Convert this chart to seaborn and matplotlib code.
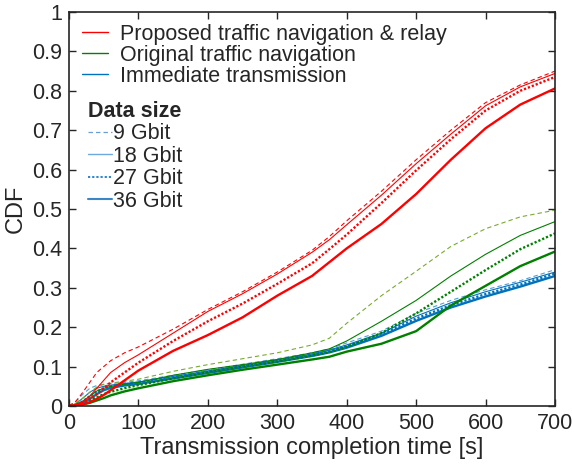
import numpy as np
import pandas as pd
import seaborn as sns
import matplotlib.pyplot as plt
from matplotlib.lines import Line2D
from matplotlib.ticker import FuncFormatter

# transmission completion time [s]
t = [0, 10, 20, 30, 40, 50, 60, 80, 100, 150, 200, 250, 300, 350, 375,
     400, 450, 500, 550, 600, 650, 700]

# proposed traffic navigation & relay
red_9 = [0, 0.012, 0.035, 0.06, 0.085, 0.10, 0.115, 0.135, 0.15, 0.195, 0.245, 0.29, 0.34, 0.395, 0.43,
         0.47, 0.545, 0.625, 0.70, 0.77, 0.815, 0.85]
red_18 = [0, 0.003, 0.012, 0.025, 0.045, 0.065, 0.085, 0.11, 0.13, 0.185, 0.24, 0.285, 0.335, 0.39, 0.422,
          0.46, 0.535, 0.615, 0.69, 0.762, 0.81, 0.844]
red_27 = [0, 0.002, 0.008, 0.018, 0.03, 0.045, 0.06, 0.085, 0.11, 0.165, 0.215, 0.26, 0.31, 0.362, 0.398,
          0.435, 0.515, 0.598, 0.677, 0.75, 0.80, 0.835]
red_36 = [0, 0.001, 0.004, 0.01, 0.018, 0.028, 0.04, 0.065, 0.09, 0.14, 0.18, 0.225, 0.28, 0.33, 0.365,
          0.40, 0.462, 0.538, 0.625, 0.705, 0.765, 0.806]

# original traffic navigation
green_9 = [0, 0.008, 0.02, 0.035, 0.048, 0.055, 0.058, 0.063, 0.068, 0.088, 0.105, 0.12, 0.135, 0.155, 0.172,
           0.21, 0.28, 0.342, 0.405, 0.45, 0.48, 0.497]
green_18 = [0, 0.004, 0.012, 0.025, 0.038, 0.045, 0.05, 0.055, 0.06, 0.078, 0.093, 0.105, 0.118, 0.135, 0.145,
            0.165, 0.215, 0.268, 0.33, 0.385, 0.433, 0.468]
green_27 = [0, 0.002, 0.008, 0.015, 0.022, 0.03, 0.036, 0.045, 0.053, 0.07, 0.086, 0.10, 0.113, 0.128, 0.137,
            0.15, 0.185, 0.235, 0.29, 0.345, 0.398, 0.438]
green_36 = [0, 0.001, 0.004, 0.008, 0.014, 0.02, 0.027, 0.037, 0.045, 0.063, 0.078, 0.092, 0.105, 0.118, 0.125,
            0.138, 0.158, 0.19, 0.255, 0.305, 0.355, 0.392]

# immediate transmission
blue_9 = [0, 0.012, 0.03, 0.045, 0.052, 0.055, 0.057, 0.06, 0.064, 0.078, 0.092, 0.106, 0.12, 0.135, 0.145,
          0.16, 0.19, 0.235, 0.268, 0.295, 0.318, 0.346]
blue_18 = [0, 0.006, 0.02, 0.035, 0.045, 0.05, 0.053, 0.057, 0.061, 0.075, 0.089, 0.103, 0.117, 0.132, 0.142,
           0.155, 0.185, 0.228, 0.262, 0.29, 0.314, 0.34]
blue_27 = [0, 0.003, 0.012, 0.025, 0.037, 0.045, 0.05, 0.055, 0.059, 0.073, 0.087, 0.101, 0.115, 0.13, 0.14,
           0.152, 0.182, 0.222, 0.256, 0.284, 0.308, 0.336]
blue_36 = [0, 0.002, 0.008, 0.018, 0.03, 0.04, 0.046, 0.052, 0.056, 0.07, 0.084, 0.098, 0.112, 0.127, 0.136,
           0.148, 0.178, 0.216, 0.25, 0.278, 0.303, 0.33]

schemes = ['Proposed traffic navigation & relay', 'Original traffic navigation', 'Immediate transmission']
sizes = ['9 Gbit', '18 Gbit', '27 Gbit', '36 Gbit']

sns.set_theme(style='ticks')
plt.rcParams['font.family'] = ['Liberation Sans', 'DejaVu Sans']
plt.rcParams['lines.scale_dashes'] = False

dash = (0, (3.2, 2.2))
dot = (0, (1.6, 1.4))
styles = [(dash, 0.8), ('-', 0.8), (dot, 1.7), ('-', 1.7)]
colors = {
    'red': ['#ff0000', '#ff0000', '#ff0000', '#ff0000'],
    'green': ['#77ac30', '#008000', '#008000', '#008000'],
    'blue': ['#4d9fdc', '#0072bd', '#0072bd', '#0072bd'],
}
series = {
    'red': [red_9, red_18, red_27, red_36],
    'green': [green_9, green_18, green_27, green_36],
    'blue': [blue_9, blue_18, blue_27, blue_36],
}

fig = plt.figure(figsize=(5.72, 4.65), dpi=100)
ax = fig.add_axes([69 / 572, 59 / 465, 486 / 572, 394 / 465])

for key in ['blue', 'green', 'red']:
    for i, vals in enumerate(series[key]):
        ls, lw = styles[i]
        df = pd.DataFrame({'t': t, 'cdf': vals})
        sns.lineplot(data=df, x='t', y='cdf', ax=ax, color=colors[key][i],
                     linewidth=lw, linestyle=ls, legend=False)

ax.set_xlim(0, 700)
ax.set_ylim(0, 1)
ax.set_xticks(np.arange(0, 701, 100))
ax.set_yticks(np.arange(0, 1.01, 0.1))
ax.yaxis.set_major_formatter(FuncFormatter(lambda v, p: f'{v:g}'))
ax.tick_params(direction='in', top=True, right=True, length=5, width=1,
               labelsize=15.5, colors='#262626', pad=5)
for s in ax.spines.values():
    s.set_linewidth(1.2)
    s.set_color('#262626')
ax.set_xlabel('Transmission completion time [s]', fontsize=17, color='#262626', labelpad=2)
ax.set_ylabel('CDF', fontsize=17, color='#262626', labelpad=4)

# legend for the schemes
h1 = [Line2D([], [], color=c, lw=1) for c in ['#ff0000', '#008000', '#0072bd']]
leg1 = ax.legend(h1, schemes, loc='upper left', bbox_to_anchor=(0.027, 0.97),
                 frameon=False, fontsize=15.5, borderaxespad=0, borderpad=0,
                 handlelength=1.2, handletextpad=0.55, labelspacing=0.0)
ax.add_artist(leg1)

# legend for the data sizes
size_cols = ['#6a9fd5', '#6fa8dc', '#0a70c0', '#3d85c6']
size_lw = [0.9, 1.0, 1.2, 1.5]
h2 = [Line2D([], [], color=size_cols[i], lw=size_lw[i], linestyle=styles[i][0]) for i in range(4)]
leg2 = ax.legend(h2, sizes, loc='upper left', bbox_to_anchor=(0.039, 0.775),
                 frameon=False, fontsize=15.5, borderaxespad=0, borderpad=0,
                 handlelength=1.1, handletextpad=0.05, labelspacing=0.07,
                 title='Data size', alignment='left',
                 title_fontproperties={'weight': 'bold', 'size': 15.5})

fig.savefig('out.png', dpi=100)
